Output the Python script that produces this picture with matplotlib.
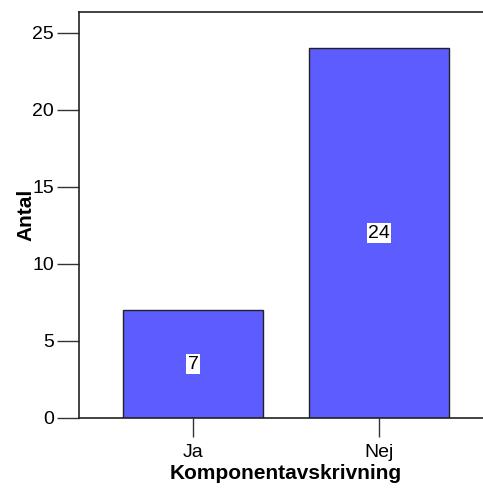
import matplotlib
matplotlib.use('Agg')
import matplotlib.pyplot as plt

categories = ['Ja', 'Nej']
counts = [7, 24]
yticks = [0, 5, 10, 15, 20, 25]

plt.rcParams['font.family'] = ['Liberation Sans', 'DejaVu Sans']

W, H = 483, 488
fig = plt.figure(figsize=(W / 100, H / 100), dpi=100)
# axes runs off the right edge, like the original export
ax = fig.add_axes([79 / W, (H - 418) / H, (493 - 79) / W, (418 - 12) / H])

x = list(range(len(categories)))
bars = ax.bar(x, counts, width=0.753, color='#5c5cff', edgecolor='#222222', linewidth=1)

for xi, c in zip(x, counts):
    ax.text(xi, c / 2, str(c), ha='center', va='center', fontsize=14,
            bbox=dict(facecolor='white', edgecolor='none', pad=1))

ax.set_xlim(-0.613, 1.613)
ax.set_ylim(0, 26.36)
ax.set_xticks(x)
ax.set_xticklabels(categories, fontsize=14)
ax.set_yticks(yticks)
ax.set_yticklabels([str(t) for t in yticks], fontsize=14)
ax.tick_params(axis='both', direction='out', length=16, width=1, color='#333333', pad=2)
ax.tick_params(axis='x', length=14, pad=5)

for s in ['left', 'bottom', 'top']:
    ax.spines[s].set_linewidth(1.2)
    ax.spines[s].set_color('#222222')
ax.spines['right'].set_visible(False)

ax.set_xlabel('Komponentavskrivning', fontsize=15, fontweight='bold', labelpad=2)
ax.set_ylabel('Antal', fontsize=15, fontweight='bold', labelpad=-2)

fig.savefig('out.png', dpi=100)
